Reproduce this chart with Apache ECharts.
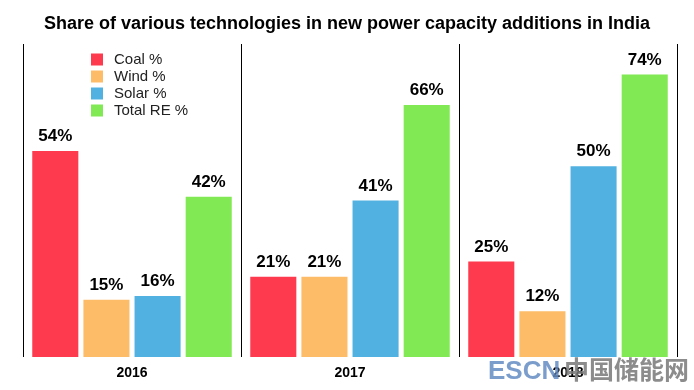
<!DOCTYPE html>
<html><head><meta charset="utf-8">
<script src="https://cdn.jsdelivr.net/npm/echarts@6/dist/echarts.min.js"></script>
<style>html,body{margin:0;padding:0;background:#fff}#c{width:694px;height:390px}</style>
</head><body><div id="c"></div>
<script>
const categories = ['2016', '2017', '2018'];
const seriesNames = ['Coal %', 'Wind %', 'Solar %', 'Total RE %'];
const coal = [54, 21, 25];
const wind = [15, 21, 12];
const solar = [16, 41, 50];
const totalRE = [42, 66, 74];
const colors = ['#fe3a4f', '#fdbd68', '#51b2e1', '#80e953'];
const values = [coal, wind, solar, totalRE];

const chart = echarts.init(document.getElementById('c'));
chart.setOption({
  animation: false,
  title: {
    text: 'Share of various technologies in new power capacity additions in India',
    left: 'center', top: 10,
    textStyle: {fontFamily: 'Liberation Sans, Arial, sans-serif', fontWeight: 'bold', fontSize: 18, color: '#000'}
  },
  legend: {
    orient: 'vertical', left: 86, top: 47,
    itemWidth: 12, itemHeight: 12, itemGap: 2,
    icon: 'rect',
    textStyle: {fontFamily: 'Liberation Sans, Arial, sans-serif', fontSize: 15, color: '#222', padding: [0,0,0,6]},
    data: seriesNames
  },
  grid: {left: 23, right: 17, top: 44, bottom: 33},
  xAxis: {
    type: 'category', data: categories,
    axisLine: {show: false}, axisTick: {show: false},
    splitLine: {show: true, lineStyle: {color: '#000', width: 1}},
    axisLabel: {fontFamily: 'Liberation Sans, Arial, sans-serif', fontWeight: 'bold', fontSize: 14, color: '#000', margin: 9}
  },
  yAxis: {type: 'value', min: 0, max: 82, show: false, splitLine: {show: false}},
  series: seriesNames.map((n, i) => ({
    name: n, type: 'bar', data: values[i],
    itemStyle: {color: colors[i]},
    barGap: '11%', barCategoryGap: '8.5%',
    label: {show: true, position: 'top', distance: 6, formatter: '{c}%',
      fontFamily: 'Liberation Sans, Arial, sans-serif', fontWeight: 'bold', fontSize: 17, color: '#000'}
  })),
  graphic: [
    {type: 'text', left: 488, top: 359, z: 100, style: {text: 'ESCN', fill: 'rgba(100,140,195,0.85)', font: 'bold 26px Liberation Sans, Arial, sans-serif'}},
    {type: 'text', left: 564, top: 357, z: 100, style: {text: '中国储能网', fill: 'rgba(120,120,120,0.85)', font: 'bold 25px Noto Sans CJK SC, sans-serif'}}
  ]
});
</script></body></html>
